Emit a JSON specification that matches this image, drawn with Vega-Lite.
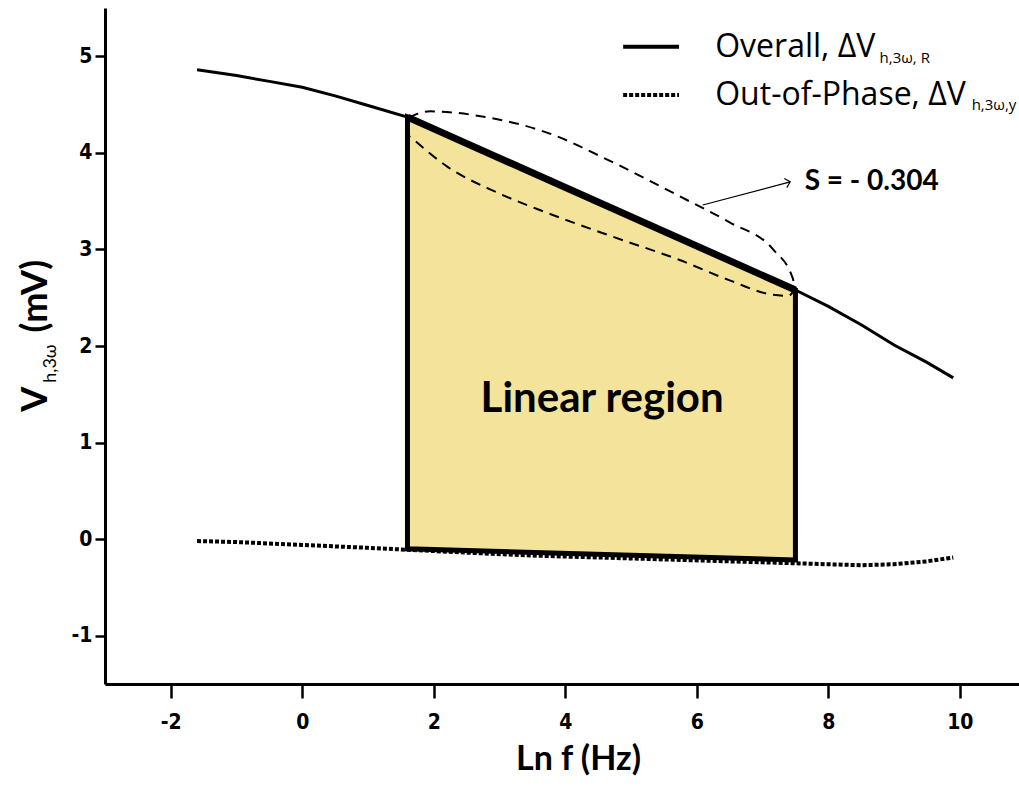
{
  "$schema": "https://vega.github.io/schema/vega-lite/v6.json",
  "width": 914,
  "height": 676,
  "autosize": {"type": "none"},
  "padding": {"left": 105, "top": 8, "right": 0, "bottom": 108},
  "background": "white",
  "config": {
    "view": {"stroke": null},
    "axis": {"grid": false, "domainColor": "black", "tickColor": "black", "labelColor": "black", "titleColor": "black"}
  },
  "datasets": {
    "overall": [
      {"x": -1.6, "y": 4.86}, {"x": -1.0, "y": 4.8}, {"x": -0.5, "y": 4.74}, {"x": 0.0, "y": 4.68},
      {"x": 0.5, "y": 4.59}, {"x": 1.0, "y": 4.49}, {"x": 1.6, "y": 4.37}, {"x": 2.5, "y": 4.097},
      {"x": 3.5, "y": 3.79}, {"x": 4.5, "y": 3.49}, {"x": 5.5, "y": 3.187}, {"x": 6.5, "y": 2.883},
      {"x": 7.5, "y": 2.58}, {"x": 8.0, "y": 2.41},
      {"x": 8.5, "y": 2.22}, {"x": 9.0, "y": 2.01}, {"x": 9.5, "y": 1.83}, {"x": 9.9, "y": 1.67}
    ],
    "phase": [
      {"x": -1.6, "y": -0.02}, {"x": -1.0, "y": -0.03}, {"x": 0.0, "y": -0.06}, {"x": 1.0, "y": -0.09},
      {"x": 1.6, "y": -0.11}, {"x": 2.5, "y": -0.14}, {"x": 3.5, "y": -0.17}, {"x": 4.5, "y": -0.19},
      {"x": 5.5, "y": -0.21}, {"x": 6.5, "y": -0.23}, {"x": 7.5, "y": -0.25}, {"x": 8.0, "y": -0.26},
      {"x": 8.5, "y": -0.27}, {"x": 9.0, "y": -0.26}, {"x": 9.5, "y": -0.23}, {"x": 9.9, "y": -0.19}
    ],
    "region": [
      {"x": 1.6, "top": 4.37, "bottom": -0.1},
      {"x": 7.5, "top": 2.58, "bottom": -0.215}
    ],
    "ellipse": [
      {"i": 1, "x": 1.62, "y": 4.37}, {"i": 2, "x": 1.95, "y": 4.43}, {"i": 3, "x": 2.71, "y": 4.38},
      {"i": 4, "x": 3.72, "y": 4.21}, {"i": 5, "x": 4.73, "y": 3.9}, {"i": 6, "x": 5.74, "y": 3.55},
      {"i": 7, "x": 6.5, "y": 3.28}, {"i": 8, "x": 7.16, "y": 3.0}, {"i": 9, "x": 7.46, "y": 2.7},
      {"i": 10, "x": 7.5, "y": 2.58}, {"i": 11, "x": 7.4, "y": 2.52}, {"i": 12, "x": 7.16, "y": 2.53},
      {"i": 13, "x": 6.5, "y": 2.68}, {"i": 14, "x": 5.74, "y": 2.89}, {"i": 15, "x": 4.73, "y": 3.13},
      {"i": 16, "x": 3.72, "y": 3.38}, {"i": 17, "x": 2.96, "y": 3.59}, {"i": 18, "x": 2.2, "y": 3.86},
      {"i": 19, "x": 1.64, "y": 4.17}
    ],
    "arrow": [
      {"x": 6.09, "y": 3.46}, {"x": 7.42, "y": 3.7}
    ],
    "arrowhead": [{"x": 7.42, "y": 3.7}],
    "legendSolid": [{"x": 4.88, "y": 5.1}, {"x": 5.73, "y": 5.1}],
    "legendDotted": [{"x": 4.88, "y": 4.6}, {"x": 5.73, "y": 4.6}],
    "legendMain": [
      {"x": 6.28, "y": 4.996, "text": "Overall, ΔV"},
      {"x": 6.28, "y": 4.5, "text": "Out-of-Phase, ΔV"}
    ],
    "legendSub": [
      {"x": 8.78, "y": 4.93, "text": "h,3ω, R"},
      {"x": 10.18, "y": 4.44, "text": "h,3ω,y"}
    ],
    "slope": [{"x": 7.64, "y": 3.7, "text": "S = - 0.304"}],
    "regionLabel": [{"x": 4.56, "y": 1.32, "text": "Linear region"}],
    "yTitleMain": [
      {"x": -3.875, "y": 1.32, "text": "V"},
      {"x": -3.875, "y": 2.14, "text": "(mV)"}
    ],
    "yTitleSub": [{"x": -3.74, "y": 1.62, "text": "h,3ω"}]
  },
  "encoding": {
    "x": {"field": "x", "type": "quantitative", "scale": {"domain": [-3, 10.9], "nice": false, "zero": false}},
    "y": {"field": "y", "type": "quantitative", "scale": {"domain": [-1.5, 5.5], "nice": false, "zero": false}}
  },
  "layer": [
    {
      "data": {"name": "phase"},
      "mark": {"type": "line", "color": "black", "strokeWidth": 4, "strokeDash": [4, 2], "strokeCap": "butt"},
      "encoding": {
        "x": {"field": "x", "type": "quantitative", "axis": {"values": [-2, 0, 2, 4, 6, 8, 10], "labelExpr": "'' + datum.value", "title": "Ln f (Hz)", "domainWidth": 3, "tickWidth": 2.5, "tickSize": 14, "labelPadding": 13, "labelFont": "DejaVu Sans Condensed", "labelFontWeight": "bold", "labelFontSize": 21, "titleFont": "Lato", "titleFontWeight": "bold", "titleFontSize": 34, "titlePadding": 10, "titleX": 473}},
        "y": {"field": "y", "type": "quantitative", "axis": {"values": [-1, 0, 1, 2, 3, 4, 5], "labelExpr": "'' + datum.value", "title": null, "domainWidth": 3, "tickWidth": 2.5, "tickSize": 10, "labelPadding": 3, "labelFont": "DejaVu Sans Condensed", "labelFontWeight": "bold", "labelFontSize": 21}}
      }
    },
    {
      "data": {"name": "region"},
      "mark": {"type": "area", "fill": "#F4E39B", "stroke": "black", "strokeWidth": 5, "strokeJoin": "miter"},
      "encoding": {
        "y": {"field": "top", "type": "quantitative"},
        "y2": {"field": "bottom"}
      }
    },
    {
      "data": {"name": "region"},
      "mark": {"type": "line", "color": "black", "strokeWidth": 7},
      "encoding": {"y": {"field": "top", "type": "quantitative"}}
    },
    {
      "data": {"name": "overall"},
      "mark": {"type": "line", "color": "black", "strokeWidth": 3}
    },
    {
      "data": {"name": "ellipse"},
      "mark": {"type": "line", "color": "black", "strokeWidth": 2, "strokeDash": [10, 7], "interpolate": "monotone"},
      "encoding": {"order": {"field": "i", "type": "quantitative"}}
    },
    {
      "data": {"name": "arrow"},
      "mark": {"type": "line", "color": "black", "strokeWidth": 1.2}
    },
    {
      "data": {"name": "arrowhead"},
      "mark": {"type": "point", "shape": "M-1,-1L0,0L-1,1", "filled": false, "stroke": "black", "strokeWidth": 1.2, "size": 90, "angle": 345, "opacity": 1}
    },
    {
      "data": {"name": "legendSolid"},
      "mark": {"type": "line", "color": "black", "strokeWidth": 4}
    },
    {
      "data": {"name": "legendDotted"},
      "mark": {"type": "line", "color": "black", "strokeWidth": 4, "strokeDash": [4, 2], "strokeCap": "butt"}
    },
    {
      "data": {"name": "legendMain"},
      "mark": {"type": "text", "font": "Open Sans", "fontSize": 32, "align": "left", "baseline": "alphabetic", "color": "black"},
      "encoding": {"text": {"field": "text"}}
    },
    {
      "data": {"name": "legendSub"},
      "mark": {"type": "text", "font": "Open Sans", "fontSize": 15, "align": "left", "baseline": "alphabetic", "color": "black"},
      "encoding": {"text": {"field": "text"}}
    },
    {
      "data": {"name": "slope"},
      "mark": {"type": "text", "font": "Lato", "fontWeight": "bold", "fontSize": 28, "align": "left", "baseline": "middle", "color": "black"},
      "encoding": {"text": {"field": "text"}}
    },
    {
      "data": {"name": "regionLabel"},
      "mark": {"type": "text", "font": "Lato", "fontWeight": "bold", "fontSize": 42, "align": "center", "baseline": "alphabetic", "color": "black"},
      "encoding": {"text": {"field": "text"}}
    },
    {
      "data": {"name": "yTitleMain"},
      "mark": {"type": "text", "font": "Lato", "fontWeight": "bold", "fontSize": 36, "align": "left", "baseline": "alphabetic", "angle": 270, "color": "black"},
      "encoding": {"text": {"field": "text"}}
    },
    {
      "data": {"name": "yTitleSub"},
      "mark": {"type": "text", "font": "Lato", "fontSize": 18, "align": "left", "baseline": "alphabetic", "angle": 270, "color": "black"},
      "encoding": {"text": {"field": "text"}}
    },
    {
      "data": {"values": [{}]},
      "mark": {"type": "rule", "color": "black", "strokeWidth": 3},
      "encoding": {"y": {"datum": 5.5}, "x": null}
    }
  ]
}
